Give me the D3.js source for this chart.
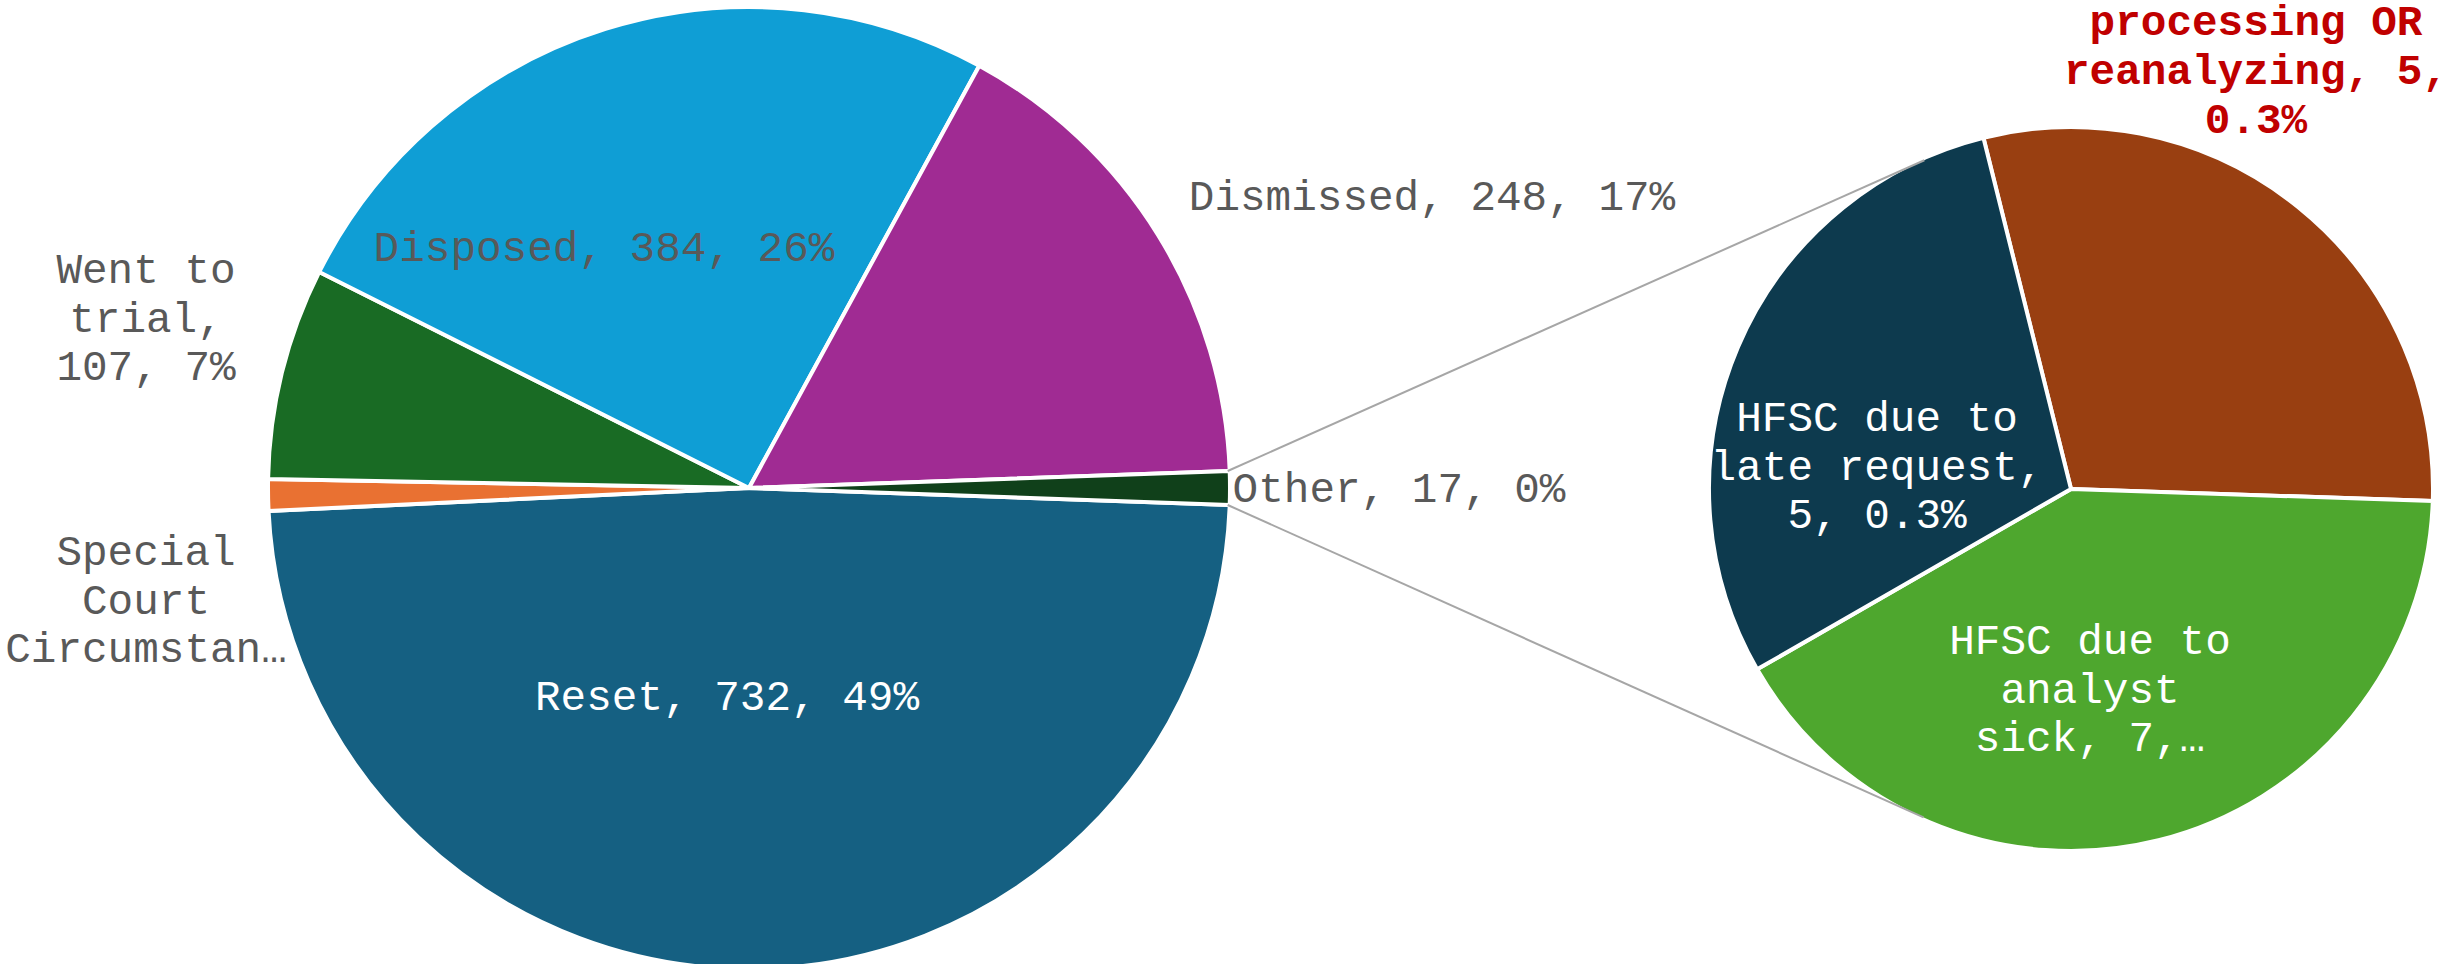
<!DOCTYPE html>
<html>
<head>
<meta charset="utf-8">
<script src="https://cdn.jsdelivr.net/npm/d3@7/dist/d3.min.js"></script>
<style>
  html, body { margin: 0; padding: 0; background: #ffffff; }
  svg { display: block; }
</style>
</head>
<body>
<svg id="chart" width="2456" height="964"></svg>
<script>
// ---------------- DATA ----------------
const mainCategories = ["Reset", "Special Court Circumstances", "Went to trial", "Disposed", "Dismissed", "Other"];
const mainValues = [732, 16, 107, 384, 248, 17];
const mainLabelLines = [
  ["Reset, 732, 49%"],
  ["Special", "Court", "Circumstan…"],
  ["Went to", "trial,", "107, 7%"],
  ["Disposed, 384, 26%"],
  ["Dismissed, 248, 17%"],
  ["Other, 17, 0%"]
];
const subCategories = ["HFSC due to processing OR reanalyzing", "HFSC due to analyst sick", "HFSC due to late request"];
const subValues = [5, 7, 5];
const subLabelLines = [
  ["processing OR", "reanalyzing, 5,", "0.3%"],
  ["HFSC due to", "analyst", "sick, 7,…"],
  ["HFSC due to", "late request,", "5, 0.3%"]
];

// ---------------- STYLE / LAYOUT ----------------
const mainColors = ["#156082", "#E97132", "#196B24", "#0F9ED5", "#A02B93", "#10401A"];
const subColors = ["#993F11", "#4EA72E", "#0D3A4E"];
const fontFamily = "'Liberation Mono', 'Courier New', monospace";
const fontSize = 42.67;

const mainCenter = { x: 749, y: 488, r: 481 };
const subCenter = { x: 2071, y: 489, r: 362 };
const subStartDeg = -14;

// label anchor (text center x, first baseline y, line height, colour, weight)
const mainLabelLayout = [
  { x: 727, y: 710, lh: 48.5, color: "#ffffff" },
  { x: 146, y: 565, lh: 48.5, color: "#595959" },
  { x: 146, y: 283, lh: 48.5, color: "#595959" },
  { x: 604, y: 261, lh: 48.5, color: "#595959" },
  { x: 1432, y: 210, lh: 48.5, color: "#595959" },
  { x: 1399, y: 502, lh: 48.5, color: "#595959" }
];
const subLabelLayout = [
  { x: 2256, y: 35, lh: 49, color: "#C00000", weight: "bold" },
  { x: 2090, y: 654, lh: 48.5, color: "#ffffff" },
  { x: 1877, y: 431, lh: 48.5, color: "#ffffff" }
];

const svg = d3.select("#chart");
svg.append("rect").attr("width", 2456).attr("height", 964).attr("fill", "#ffffff");

// ---------------- MAIN PIE ----------------
const mainTotal = d3.sum(mainValues);
const otherIdx = mainValues.length - 1;
// "Other" slice centred on the right (3 o'clock)
const mainStart = Math.PI / 2 + (mainValues[otherIdx] / mainTotal) * Math.PI;
const mainPie = d3.pie().sort(null).value(d => d)
  .startAngle(mainStart).endAngle(mainStart + 2 * Math.PI);
const mainArcs = mainPie(mainValues);
const mainArc = d3.arc().innerRadius(0).outerRadius(mainCenter.r);

const gMain = svg.append("g").attr("transform", `translate(${mainCenter.x},${mainCenter.y})`);
gMain.selectAll("path").data(mainArcs).enter().append("path")
  .attr("d", mainArc)
  .attr("fill", (d, i) => mainColors[i])
  .attr("stroke", "#ffffff")
  .attr("stroke-width", 4)
  .attr("stroke-linejoin", "round");

// ---------------- SUB PIE ----------------
const subStart = subStartDeg * Math.PI / 180;
const subPie = d3.pie().sort(null).value(d => d)
  .startAngle(subStart).endAngle(subStart + 2 * Math.PI);
const subArcs = subPie(subValues);
const subArc = d3.arc().innerRadius(0).outerRadius(subCenter.r);

const gSub = svg.append("g").attr("transform", `translate(${subCenter.x},${subCenter.y})`);
gSub.selectAll("path").data(subArcs).enter().append("path")
  .attr("d", subArc)
  .attr("fill", (d, i) => subColors[i])
  .attr("stroke", "#ffffff")
  .attr("stroke-width", 4)
  .attr("stroke-linejoin", "round");

// ---------------- CONNECTOR LINES ----------------
const o = mainArcs[otherIdx];
const rVisMain = mainCenter.r - 2;
const rVisSub = subCenter.r - 2;
function pt(cx, cy, r, a) { return [cx + r * Math.sin(a), cy - r * Math.cos(a)]; }
const pUp = pt(mainCenter.x, mainCenter.y, rVisMain, o.startAngle);
const pDn = pt(mainCenter.x, mainCenter.y, rVisMain, o.endAngle);
function tangent(p, upper) {
  const dx = subCenter.x - p[0], dy = subCenter.y - p[1];
  const d = Math.hypot(dx, dy);
  const base = Math.atan2(dy, dx);
  const alpha = Math.asin(rVisSub / d);
  const ang = upper ? base - alpha : base + alpha;
  const len = Math.sqrt(d * d - rVisSub * rVisSub);
  return [p[0] + len * Math.cos(ang), p[1] + len * Math.sin(ang)];
}
const tUp = tangent(pUp, true), tDn = tangent(pDn, false);
const line = d3.line();
svg.append("path").attr("d", line([pUp, tUp])).attr("stroke", "#A6A6A6").attr("stroke-width", 2).attr("fill", "none");
svg.append("path").attr("d", line([pDn, tDn])).attr("stroke", "#A6A6A6").attr("stroke-width", 2).attr("fill", "none");

// ---------------- LABELS ----------------
function drawLabel(lines, lay) {
  const t = svg.append("text")
    .attr("font-family", fontFamily)
    .attr("font-size", fontSize)
    .attr("font-weight", lay.weight || "normal")
    .attr("fill", lay.color)
    .attr("text-anchor", "middle");
  lines.forEach((s, i) => {
    t.append("tspan").attr("x", lay.x).attr("y", lay.y + i * lay.lh).text(s);
  });
}
mainLabelLines.forEach((l, i) => drawLabel(l, mainLabelLayout[i]));
subLabelLines.forEach((l, i) => drawLabel(l, subLabelLayout[i]));
</script>
</body>
</html>
